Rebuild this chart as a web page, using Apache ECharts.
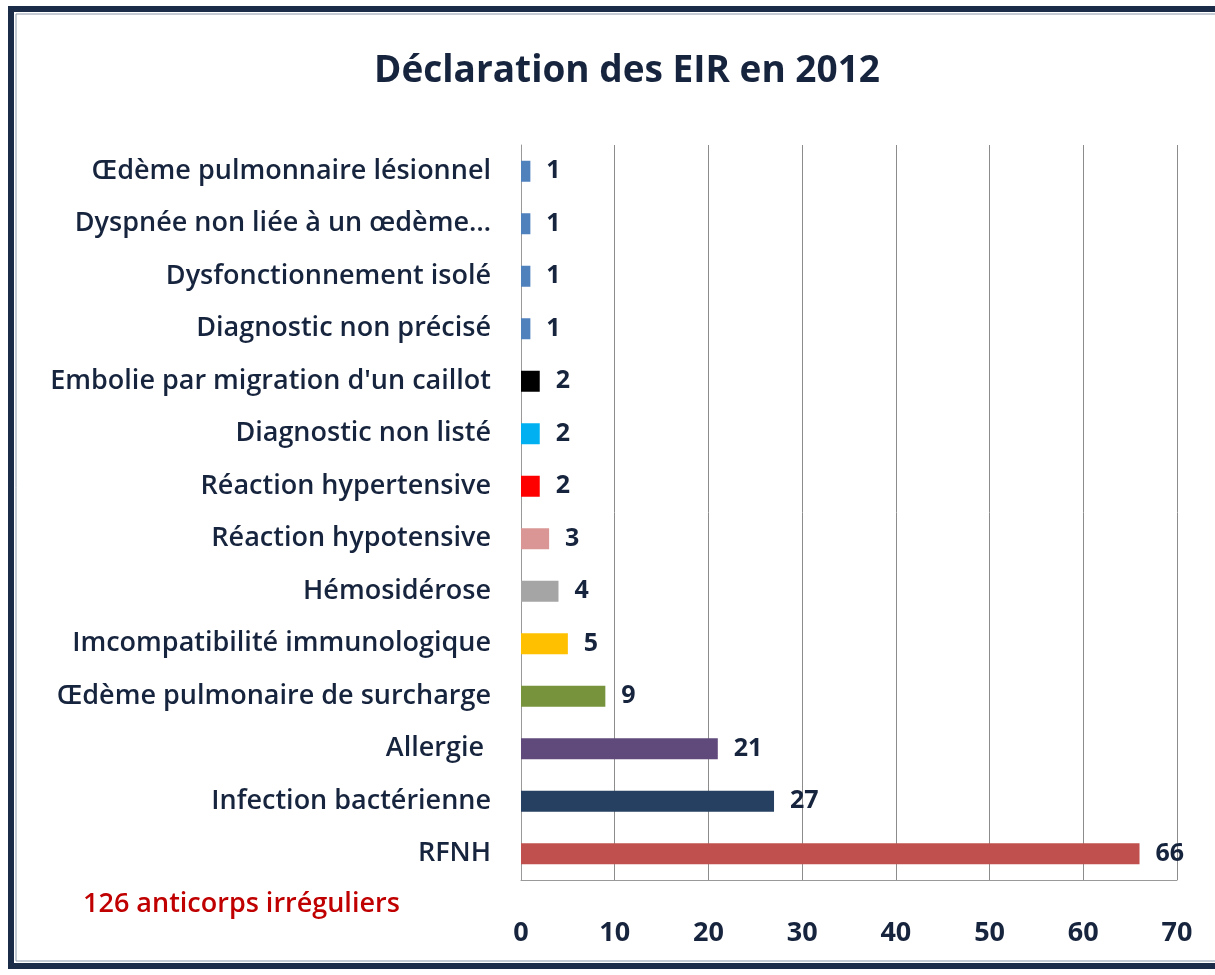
<!DOCTYPE html>
<html lang="fr">
<head>
    <meta charset="UTF-8">
    <title>Déclaration des EIR en 2012</title>
    <script src="https://cdn.jsdelivr.net/npm/echarts@6/dist/echarts.min.js"></script>
    <style>
        html, body { margin: 0; padding: 0; background: #fff; }
        #chart { width: 1215px; height: 975px; }
    </style>
</head>
<body>
    <div id="chart"></div>
    <script>
        // catégories, du bas vers le haut
        const categories = [
            'RFNH',
            'Infection bactérienne',
            'Allergie ',
            'Œdème pulmonaire de surcharge',
            'Imcompatibilité immunologique',
            'Hémosidérose',
            'Réaction hypotensive',
            'Réaction hypertensive',
            'Diagnostic non listé',
            "Embolie par migration d'un caillot",
            'Diagnostic non précisé',
            'Dysfonctionnement isolé',
            'Dyspnée non liée à un œdème…',
            'Œdème pulmonnaire lésionnel'
        ];
        const counts = [66, 27, 21, 9, 5, 4, 3, 2, 2, 2, 1, 1, 1, 1];
        const barColors = [
            '#c0504d', '#254061', '#604a7b', '#77933c', '#ffc000', '#a5a5a5', '#d99694',
            '#ff0000', '#00b0f0', '#000000', '#4f81bd', '#4f81bd', '#4f81bd', '#4f81bd'
        ];
        const titleText = 'Déclaration des EIR en 2012';
        const noteText = '126 anticorps irréguliers';

        const font = '"Open Sans", Lato, sans-serif';
        const navy = '#17243d';

        const chart = echarts.init(document.getElementById('chart'));

        const option = {
            backgroundColor: '#ffffff',
            animation: false,
            title: {
                text: titleText,
                left: 622,
                top: 48,
                textAlign: 'center',
                textStyle: { fontFamily: font, fontSize: 37, fontWeight: 'bold', color: navy }
            },
            graphic: [
                {
                    type: 'rect',
                    shape: { x: 11, y: 9, width: 1230, height: 957 },
                    style: { fill: 'none', stroke: '#1b2c48', lineWidth: 6 }
                },
                {
                    type: 'rect',
                    shape: { x: 16, y: 14, width: 1230, height: 947 },
                    style: { fill: 'none', stroke: '#8a97a8', lineWidth: 1 }
                },
                {
                    type: 'text',
                    left: 83,
                    top: 891,
                    style: {
                        text: noteText,
                        fontFamily: font,
                        fontSize: 27,
                        fontWeight: 600,
                        fill: '#c00000'
                    }
                }
            ],
            grid: { left: 521, right: 38, top: 145, bottom: 95 },
            xAxis: {
                type: 'value',
                min: 0,
                max: 70,
                interval: 10,
                axisLine: { show: true, lineStyle: { color: '#999' } },
                axisTick: { show: false },
                splitLine: { show: true, lineStyle: { color: '#8c8c8c', width: 1 } },
                axisLabel: {
                    margin: 40,
                    fontFamily: font,
                    fontSize: 27,
                    fontWeight: 'bold',
                    color: navy
                }
            },
            yAxis: {
                type: 'category',
                data: categories,
                axisLine: { show: true, lineStyle: { color: '#999' } },
                axisTick: { show: false },
                axisLabel: {
                    margin: 30,
                    fontFamily: font,
                    fontSize: 27,
                    fontWeight: 600,
                    color: navy
                }
            },
            series: [
                {
                    type: 'bar',
                    barWidth: 21,
                    data: counts.map((v, i) => ({ value: v, itemStyle: { color: barColors[i] } })),
                    label: {
                        show: true,
                        position: 'right',
                        distance: 16,
                        fontFamily: font,
                        fontSize: 25,
                        fontWeight: 'bold',
                        color: navy
                    }
                }
            ]
        };

        chart.setOption(option);
    </script>
</body>
</html>
